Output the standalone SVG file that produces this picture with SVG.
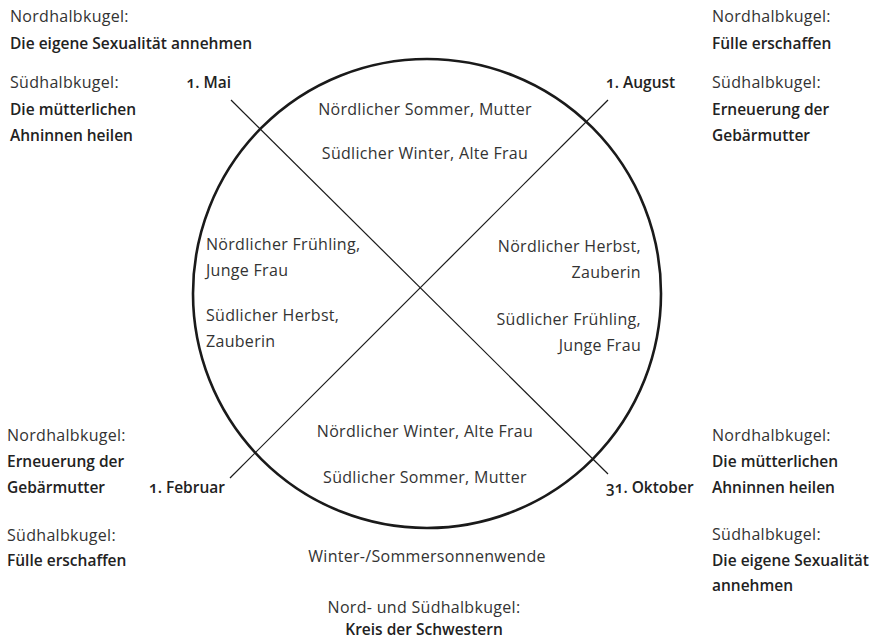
<svg xmlns="http://www.w3.org/2000/svg" width="878" height="639" viewBox="0 0 878 639">
<style>
text{font-family:"Open Sans","Noto Sans","DejaVu Sans",sans-serif;font-size:16px;fill:#333;letter-spacing:0.3px;font-variant-numeric:oldstyle-nums}
.b{font-weight:600;font-size:15.5px;letter-spacing:0;fill:#222}
.m{text-anchor:middle}
.e{text-anchor:end}
.ring{fill:none;stroke:#1a1a1a;stroke-width:2.6}
.axis{stroke:#1a1a1a;stroke-width:1.2;fill:none}
</style>
<rect width="878" height="639" fill="#fff"/>
<g id="circle"><ellipse class="ring" cx="427" cy="293.5" rx="234" ry="234.5"/></g>
<g id="connectors">
<line class="axis" x1="231" y1="100" x2="608" y2="474"/>
<line class="axis" x1="608" y1="100" x2="230" y2="478"/>
</g>
<g id="tl">
<text x="10" y="22">Nordhalbkugel:</text>
<text class="b" x="10" y="49">Die eigene Sexualität annehmen</text>
<text x="10" y="88">Südhalbkugel:</text>
<text class="b" x="10" y="115">Die mütterlichen</text>
<text class="b" x="10" y="141">Ahninnen heilen</text>
</g>
<g id="tr">
<text x="712" y="22">Nordhalbkugel:</text>
<text class="b" x="712" y="49">Fülle erschaffen</text>
<text x="712" y="88">Südhalbkugel:</text>
<text class="b" x="712" y="115">Erneuerung der</text>
<text class="b" x="712" y="141">Gebärmutter</text>
</g>
<g id="bl">
<text x="7" y="441">Nordhalbkugel:</text>
<text class="b" x="7" y="467">Erneuerung der</text>
<text class="b" x="7" y="493">Gebärmutter</text>
<text x="7" y="541">Südhalbkugel:</text>
<text class="b" x="7" y="566">Fülle erschaffen</text>
</g>
<g id="br">
<text x="712" y="441">Nordhalbkugel:</text>
<text class="b" x="712" y="467">Die mütterlichen</text>
<text class="b" x="712" y="493">Ahninnen heilen</text>
<text x="712" y="540">Südhalbkugel:</text>
<text class="b" x="712" y="566">Die eigene Sexualität</text>
<text class="b" x="712" y="591">annehmen</text>
</g>
<g id="d-mai"><text class="b e" x="231" y="88">1. Mai</text></g>
<g id="d-aug"><text class="b" x="606" y="88">1. August</text></g>
<g id="d-feb"><text class="b e" x="225" y="493">1. Februar</text></g>
<g id="d-okt"><text class="b" x="606" y="493">31. Oktober</text></g>
<g id="q-top">
<text class="m" x="425" y="115">Nördlicher Sommer, Mutter</text>
<text class="m" x="425" y="159">Südlicher Winter, Alte Frau</text>
</g>
<g id="q-left">
<text x="206" y="250">Nördlicher Frühling,</text>
<text x="206" y="276">Junge Frau</text>
<text x="206" y="321">Südlicher Herbst,</text>
<text x="206" y="347">Zauberin</text>
</g>
<g id="q-right">
<text class="e" x="641" y="252">Nördlicher Herbst,</text>
<text class="e" x="641" y="278">Zauberin</text>
<text class="e" x="641" y="325">Südlicher Frühling,</text>
<text class="e" x="641" y="351">Junge Frau</text>
</g>
<g id="q-bottom">
<text class="m" x="425" y="437">Nördlicher Winter, Alte Frau</text>
<text class="m" x="425" y="483">Südlicher Sommer, Mutter</text>
</g>
<g id="solstice">
<text class="m" x="427" y="562">Winter-/Sommersonnenwende</text>
<text class="m" x="424" y="613">Nord- und Südhalbkugel:</text>
<text class="b m" x="424" y="635">Kreis der Schwestern</text>
</g>
</svg>
